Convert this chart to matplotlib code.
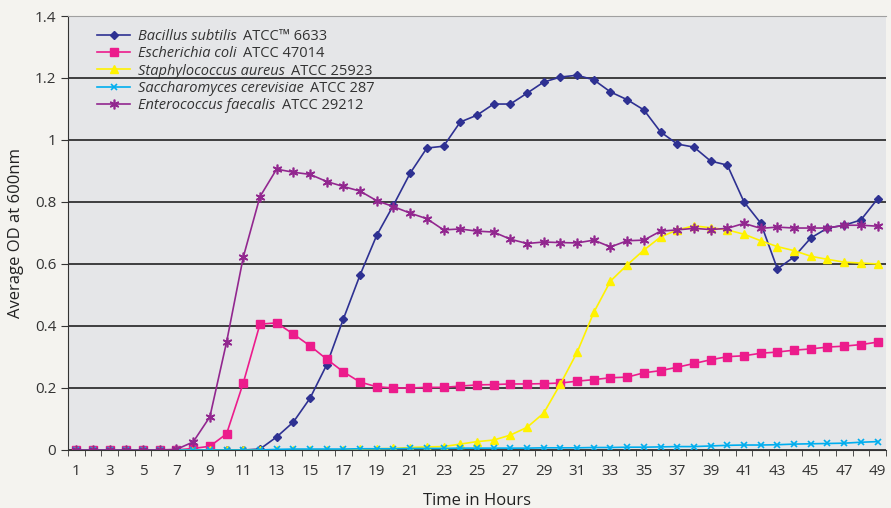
import numpy as np
import matplotlib.pyplot as plt
from matplotlib.ticker import FixedLocator

plt.rcParams['font.family'] = ['Open Sans', 'DejaVu Sans']

# Time points (hours)
hours = list(range(1, 50))

# Average OD600
bacillus = [0] * 11 + [0.003, 0.042, 0.09, 0.167, 0.275, 0.423, 0.565, 0.693, 0.79, 0.893,
                       0.974, 0.98, 1.058, 1.08, 1.116, 1.116, 1.151, 1.187, 1.203, 1.209,
                       1.194, 1.155, 1.13, 1.097, 1.026, 0.987, 0.977, 0.932, 0.919, 0.80,
                       0.732, 0.584, 0.623, 0.684, 0.716, 0.725, 0.742, 0.81]
ecoli = [0] * 7 + [0.005, 0.012, 0.052, 0.216, 0.406, 0.41, 0.374, 0.336, 0.293, 0.252,
                   0.219, 0.204, 0.2, 0.2, 0.202, 0.202, 0.206, 0.21, 0.211, 0.213,
                   0.213, 0.214, 0.216, 0.222, 0.227, 0.233, 0.235, 0.249, 0.256, 0.267,
                   0.279, 0.291, 0.301, 0.304, 0.312, 0.316, 0.322, 0.326, 0.332, 0.335,
                   0.34, 0.348]
aureus = [0] * 17 + [0.003, 0.004, 0.005, 0.008, 0.01, 0.011, 0.019, 0.027, 0.032, 0.048,
                     0.073, 0.119, 0.213, 0.315, 0.444, 0.545, 0.597, 0.645, 0.687, 0.71,
                     0.723, 0.717, 0.71, 0.696, 0.675, 0.656, 0.643, 0.625, 0.615, 0.606,
                     0.603, 0.6]
cerevisiae = [0] * 12 + [0.002, 0.003, 0.003, 0.003, 0.003, 0.004, 0.004, 0.004, 0.005, 0.005,
                         0.005, 0.006, 0.006, 0.006, 0.006, 0.006, 0.007, 0.007, 0.007, 0.008,
                         0.008, 0.009, 0.009, 0.01, 0.011, 0.011, 0.013, 0.015, 0.016, 0.016,
                         0.017, 0.019, 0.02, 0.021, 0.022, 0.025, 0.027]
faecalis = [0] * 6 + [0.002, 0.026, 0.107, 0.348, 0.622, 0.817, 0.906, 0.896, 0.889, 0.866,
                      0.85, 0.835, 0.804, 0.785, 0.764, 0.746, 0.71, 0.713, 0.706, 0.703,
                      0.68, 0.666, 0.671, 0.669, 0.668, 0.677, 0.655, 0.675, 0.677, 0.706,
                      0.71, 0.715, 0.711, 0.715, 0.731, 0.715, 0.719, 0.716, 0.716, 0.716,
                      0.725, 0.725, 0.722]

species = ['Bacillus subtilis', 'Escherichia coli', 'Staphylococcus aureus',
           'Saccharomyces cerevisiae', 'Enterococcus faecalis']
strains = ['ATCC™ 6633', 'ATCC 47014', 'ATCC 25923', 'ATCC 287', 'ATCC 29212']

fig = plt.figure(figsize=(8.91, 5.08), dpi=100, facecolor='#f4f3ef')
ax = fig.add_axes([0.0763, 0.1142, 0.918, 0.8543])
ax.set_facecolor('#e5e6e8')

ax.plot(hours, bacillus, color='#2e3192', lw=1.2, marker='D', ms=4, label=species[0])
ax.plot(hours, ecoli, color='#ec1c8c', lw=1.2, marker='s', ms=6, label=species[1])
ax.plot(hours, aureus, color='#fff200', lw=1.2, marker='^', ms=5.5, label=species[2])
ax.plot(hours, cerevisiae, color='#00aeef', lw=1.2, marker='x', ms=5, mew=1.2, label=species[3])
ax.plot(hours, faecalis, color='#92278f', lw=1.2, marker=(6, 2, 0), ms=7, mew=1.2, label=species[4])

ax.set_xlim(0.5, 49.5)
ax.set_ylim(0, 1.4)
ax.set_yticks([0, 0.2, 0.4, 0.6, 0.8, 1, 1.2, 1.4])
ax.set_yticklabels(['0', '0.2', '0.4', '0.6', '0.8', '1', '1.2', '1.4'])
ax.yaxis.grid(True, color='#222222', lw=1.2)
ax.set_axisbelow(True)

ax.set_xticks(hours[::2])
ax.xaxis.set_minor_locator(FixedLocator(np.arange(0.5, 50, 1)))
ax.tick_params(axis='x', which='major', length=0, pad=10, labelsize=11, colors='#333333')
ax.tick_params(axis='x', which='minor', length=4, color='#333333')
ax.tick_params(axis='y', length=5, labelsize=11, colors='#333333')

ax.spines['right'].set_visible(False)
ax.spines['top'].set_color('#a0a0a0')
ax.spines['left'].set_color('#333333')
ax.spines['bottom'].set_color('#333333')

ax.set_xlabel('Time in Hours', fontsize=12, color='#222222', labelpad=10)
ax.set_ylabel('Average OD at 600nm', fontsize=12, color='#222222', labelpad=8)

leg = ax.legend(loc='upper left', bbox_to_anchor=(0.02, 1.0), frameon=False,
                prop={'size': 10.5, 'style': 'italic'},
                handlelength=2.2, labelspacing=0.15, handletextpad=0.6)
for t in leg.get_texts():
    t.set_color('#333333')

# strain numbers in upright type after the italic names
fig.canvas.draw()
renderer = fig.canvas.get_renderer()
inv = fig.transFigure.inverted()
for t, s in zip(leg.get_texts(), strains):
    bb = t.get_window_extent(renderer)
    x, y = inv.transform((bb.x1 + 6, bb.y0))
    fig.text(x, y, s, fontsize=10.5, color='#333333', va='bottom', ha='left')

fig.savefig('out.png', dpi=100, facecolor=fig.get_facecolor())
